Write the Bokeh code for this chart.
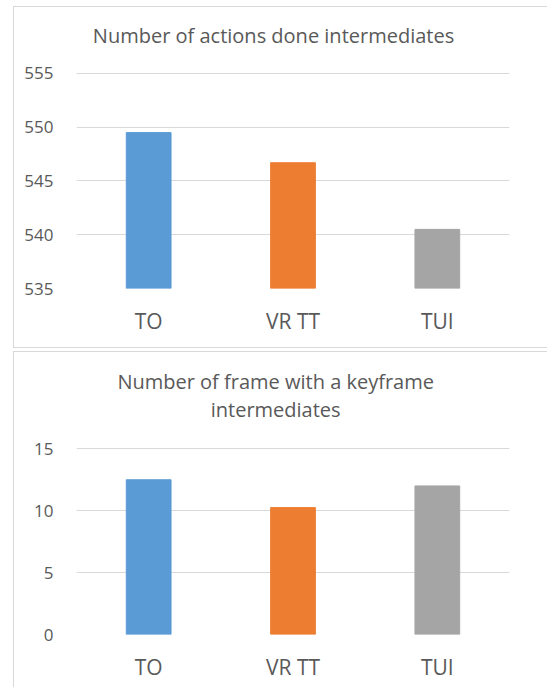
from bokeh.plotting import figure
from bokeh.models import Range1d, FixedTicker, Label
from bokeh.layouts import column
from bokeh.embed import file_html
from bokeh.resources import INLINE

categories = ["TO", "VR TT", "TUI"]
actions_done = [549.5, 546.7, 540.5]
keyframe_frames = [12.5, 10.25, 12.0]
bar_colors = ["#5B9BD5", "#ED7D31", "#A5A5A5"]
actions_axis = (535, 555)
actions_ticks = [535, 540, 545, 550, 555]
keyframe_axis = (0, 15)
keyframe_ticks = [0, 5, 10, 15]
title1_lines = ["Number of actions done intermediates"]
title2_lines = ["Number of frame with a keyframe", "intermediates"]

FONT = "Open Sans"
TXT = "#595959"
GRID = "#d9d9d9"


def make(values, yr, ticks, headroom, height, borders, titles, border_css):
    # headroom: extra space above the top tick (in axis units) that holds the title
    p = figure(x_range=categories, y_range=Range1d(yr[0], yr[1] + headroom),
               width=534, height=height,
               output_backend="svg", toolbar_location=None, title=None,
               min_border_left=borders[0], min_border_right=borders[1],
               min_border_top=borders[2], min_border_bottom=borders[3],
               styles=border_css)
    p.vbar(x=categories, top=values, bottom=yr[0], width=0.31, color=bar_colors)
    p.outline_line_color = None
    p.xgrid.grid_line_color = None
    p.ygrid.grid_line_color = GRID
    p.ygrid.ticker = FixedTicker(ticks=ticks)
    p.yaxis.ticker = FixedTicker(ticks=ticks)
    for ax in (p.xaxis, p.yaxis):
        ax.axis_line_color = None
        ax.major_tick_line_color = None
        ax.minor_tick_line_color = None
        ax.major_label_text_font = FONT
        ax.major_label_text_color = TXT
    p.yaxis.major_label_standoff = 17
    p.yaxis.major_label_text_font_size = "17px"
    p.xaxis.major_label_text_font_size = "21px"
    p.xaxis.major_label_standoff = 12
    for text, tx, ty in titles:
        p.add_layout(Label(x=tx, y=yr[1] + ty, text=text, text_font=FONT,
                           text_font_size="20px", text_color=TXT,
                           text_align="center", text_baseline="middle"))
    return p


p1 = make(actions_done, actions_axis, actions_ticks, 4.93, 342, (62, 39, 13, 61),
          [(title1_lines[0], 1.365, 3.53)],
          {"border-left": "1px solid #d9d9d9", "border-top": "1px solid #d9d9d9",
           "border-bottom": "1px solid #d9d9d9"})
p2 = make(keyframe_frames, keyframe_axis, keyframe_ticks, 6.81, 336, (51, 39, 12, 54),
          [(title2_lines[0], 1.38, 5.43), (title2_lines[1], 1.38, 3.16)],
          {"border-left": "1px solid #d9d9d9", "border-top": "1px solid #d9d9d9"})

layout = column(p1, p2, spacing=3, margin=(6, 0, 0, 13))
open("out.html", "w").write(file_html(layout, INLINE))
